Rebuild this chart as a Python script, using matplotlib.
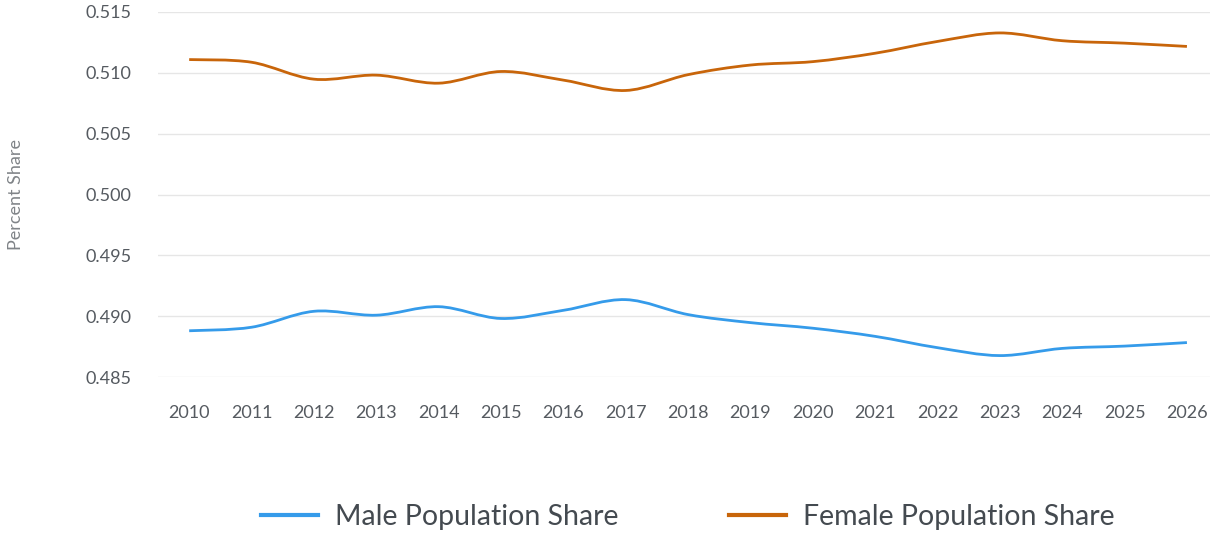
import matplotlib
matplotlib.use("Agg")
import matplotlib.pyplot as plt
from matplotlib.path import Path
from matplotlib.patches import PathPatch
from matplotlib.lines import Line2D
import numpy as np

years = list(range(2010, 2027))
male_share = [0.48880, 0.48909, 0.49040, 0.49008, 0.49078, 0.48981, 0.49048, 0.49136,
              0.49013, 0.48947, 0.48901, 0.48834, 0.48741, 0.48676, 0.48735, 0.48754, 0.48783]
female_share = [0.51109, 0.51087, 0.50948, 0.50981, 0.50915, 0.51011, 0.50940, 0.50855,
                0.50985, 0.51064, 0.51092, 0.51161, 0.51258, 0.51328, 0.51264, 0.51244, 0.51217]
y_ticks = [0.485, 0.490, 0.495, 0.500, 0.505, 0.510, 0.515]
series_names = ["Male Population Share", "Female Population Share"]
colors = ["#359BEA", "#C8650A"]

plt.rcParams['font.family'] = ['Lato', 'DejaVu Sans']

W, H = 1210, 536
fig = plt.figure(figsize=(W / 100, H / 100), dpi=100)
ax = fig.add_axes([158 / W, (H - 377) / H, (W - 158) / W, (377 - 12) / H])
ax.set_xlim(2009.5, 2026.37)
ax.set_ylim(0.485, 0.515)


def spline_path(xs, ys, k=1.0):
    xs = np.asarray(xs, float)
    ys = np.asarray(ys, float)
    n = len(xs)
    verts = [(xs[0], ys[0])]
    codes = [Path.MOVETO]
    for i in range(n - 1):
        x0, y0 = xs[i], ys[i]
        x1, y1 = xs[i + 1], ys[i + 1]
        xp, yp = (xs[i - 1], ys[i - 1]) if i > 0 else (x0, y0)
        xn, yn = (xs[i + 2], ys[i + 2]) if i + 2 < n else (x1, y1)
        c1 = (x0 + (x1 - xp) / 6 * k, y0 + (y1 - yp) / 6 * k)
        c2 = (x1 - (xn - x0) / 6 * k, y1 - (yn - y0) / 6 * k)
        verts += [c1, c2, (x1, y1)]
        codes += [Path.CURVE4] * 3
    return Path(verts, codes)


for vals, c in zip([male_share, female_share], colors):
    patch = PathPatch(spline_path(years, vals), facecolor='none', edgecolor=c,
                      linewidth=2.0, capstyle='butt', joinstyle='round', zorder=3)
    ax.add_patch(patch)

ax.set_yticks(y_ticks)
ax.set_yticklabels([f"{v:.3f}" for v in y_ticks])
ax.set_xticks(years)
ax.set_xticklabels([str(y) for y in years])
ax.grid(axis='y', color='#e6e6e6', linewidth=1.0)
ax.set_axisbelow(True)
for s in ax.spines.values():
    s.set_visible(False)
ax.tick_params(axis='both', length=0, labelsize=13, labelcolor='#555a60')
ax.tick_params(axis='y', pad=19)
ax.tick_params(axis='x', pad=20)

fig.text(16 / W, (H - 195) / H, "Percent Share", rotation=90, ha='center', va='center',
         fontsize=13, color='#808488')

handles = [Line2D([], [], color=c, linewidth=3) for c in colors]
fs = 20.5
fig.legend(handles, series_names, loc='center', bbox_to_anchor=(688 / W, (H - 517) / H),
           ncol=2, frameon=False, handlelength=2.0, handletextpad=0.6,
           columnspacing=3.9, labelcolor='#444a50',
           prop={'size': fs})

fig.savefig("out.png", dpi=100)
